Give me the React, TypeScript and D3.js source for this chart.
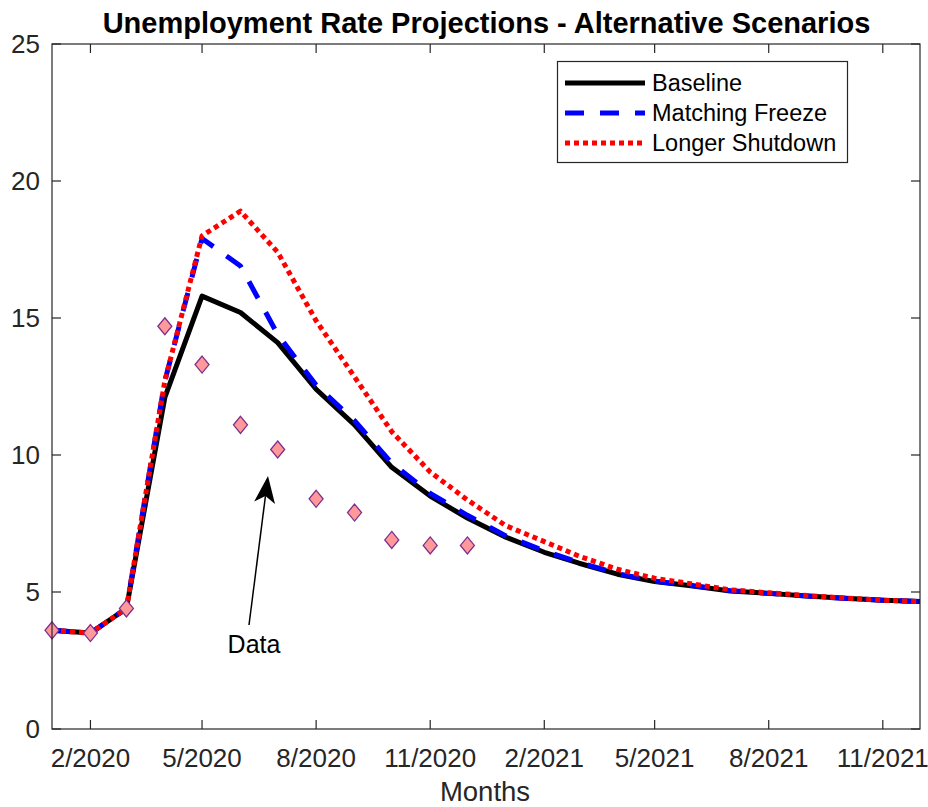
import React from "react";
import * as d3 from "d3";

// Months: January 2020 through December 2021 (first day of each month)
const monthIndex: number[] = d3.range(0, 24);
const months: Date[] = monthIndex.map((i) => new Date(Date.UTC(2020, i, 1)));

// Unemployment rate projections (%), one value per month
const baseline: number[] = [
  3.6, 3.5, 4.4, 12.1, 15.8, 15.2, 14.1, 12.4, 11.1, 9.55, 8.5, 7.7,
  7.0, 6.45, 6.05, 5.65, 5.38, 5.22, 5.04, 4.95, 4.85, 4.77, 4.7, 4.65,
];
const matchingFreeze: number[] = [
  3.6, 3.5, 4.4, 12.7, 17.9, 16.9, 14.4, 12.55, 11.25, 9.7, 8.6, 7.8,
  7.05, 6.5, 6.08, 5.67, 5.4, 5.23, 5.05, 4.95, 4.85, 4.77, 4.7, 4.65,
];
const longerShutdown: number[] = [
  3.6, 3.5, 4.4, 12.7, 18.0, 18.9, 17.4, 14.9, 12.85, 10.85, 9.38, 8.36,
  7.42, 6.84, 6.31, 5.83, 5.5, 5.29, 5.08, 4.97, 4.87, 4.78, 4.7, 4.65,
];

// Observed unemployment rate (%), Jan–Dec 2020
const observed: number[] = [3.6, 3.5, 4.4, 14.7, 13.3, 11.1, 10.2, 8.4, 7.9, 6.9, 6.7, 6.7];

// Axis ticks
const xTickDates: Date[] = [
  new Date(Date.UTC(2020, 1, 1)),
  new Date(Date.UTC(2020, 4, 1)),
  new Date(Date.UTC(2020, 7, 1)),
  new Date(Date.UTC(2020, 10, 1)),
  new Date(Date.UTC(2021, 1, 1)),
  new Date(Date.UTC(2021, 4, 1)),
  new Date(Date.UTC(2021, 7, 1)),
  new Date(Date.UTC(2021, 10, 1)),
];
const yTicks: number[] = [0, 5, 10, 15, 20, 25];

const seriesNames: string[] = ["Baseline", "Matching Freeze", "Longer Shutdown"];

const W = 928;
const H = 807;
const left = 52;
const right = 920;
const top = 44;
const bottom = 729;
const font = "Liberation Sans, Arial, Helvetica, sans-serif";
const axisColor = "#262626";

const x = d3
  .scaleUtc()
  .domain([new Date(Date.UTC(2020, 0, 1)), new Date(Date.UTC(2021, 11, 1))])
  .range([left, right]);
const y = d3.scaleLinear().domain([0, 25]).range([bottom, top]);

const line = d3
  .line<number>()
  .x((_, i) => x(months[i]))
  .y((v) => y(v));

const styles = [
  { color: "#000000", dash: "none", data: baseline },
  { color: "#0000ff", dash: "19 16", data: matchingFreeze },
  { color: "#ff0000", dash: "5 4", data: longerShutdown },
];

const fmt = (d: Date) => `${d.getUTCMonth() + 1}/${d.getUTCFullYear()}`;

export default function App() {
  const tickLen = 9;
  const arrowTip: [number, number] = [268, 476];
  const arrowTail: [number, number] = [249, 625];
  const ang = Math.atan2(arrowTip[1] - arrowTail[1], arrowTip[0] - arrowTail[0]);
  const headLen = 27;
  const headHalf = 10.5;
  const ux = Math.cos(ang);
  const uy = Math.sin(ang);
  const px = -uy;
  const py = ux;
  const bx = arrowTip[0] - ux * headLen;
  const by = arrowTip[1] - uy * headLen;
  const nx = arrowTip[0] - ux * headLen * 0.75;
  const ny = arrowTip[1] - uy * headLen * 0.75;
  const head = [
    [arrowTip[0], arrowTip[1]],
    [bx + px * headHalf, by + py * headHalf],
    [nx, ny],
    [bx - px * headHalf, by - py * headHalf],
  ]
    .map((p) => p.join(","))
    .join(" ");

  return (
    <svg
      width={W}
      height={H}
      style={{ position: "absolute", left: 0, top: 0, background: "#fff" }}
      fontFamily={font}
    >
      <rect x={0} y={0} width={W} height={H} fill="#fff" />

      {/* scenario lines */}
      {styles.map((s, k) => (
        <path
          key={k}
          d={line(s.data) || ""}
          fill="none"
          stroke={s.color}
          strokeWidth={5}
          strokeDasharray={s.dash}
          strokeLinejoin="round"
        />
      ))}

      {/* observed data */}
      {observed.map((v, i) => {
        const cx = x(months[i]);
        const cy = y(v);
        return (
          <path
            key={i}
            d={`M${cx},${cy - 8.5}L${cx + 7},${cy}L${cx},${cy + 8.5}L${cx - 7},${cy}Z`}
            fill="#ff9999"
            stroke="#7e2f8e"
            strokeWidth={1.3}
          />
        );
      })}

      {/* annotation */}
      <line
        x1={arrowTail[0]}
        y1={arrowTail[1]}
        x2={nx}
        y2={ny}
        stroke="#000"
        strokeWidth={1.5}
      />
      <polygon points={head} fill="#000" />
      <text x={254} y={653} textAnchor="middle" fontSize={25} fill="#000">
        Data
      </text>

      {/* axes box */}
      <rect
        x={left}
        y={top}
        width={right - left}
        height={bottom - top}
        fill="none"
        stroke={axisColor}
        strokeWidth={1.2}
      />
      {xTickDates.map((d, i) => {
        const tx = x(d);
        return (
          <g key={i}>
            <line x1={tx} x2={tx} y1={bottom} y2={bottom - tickLen} stroke={axisColor} strokeWidth={1.2} />
            <line x1={tx} x2={tx} y1={top} y2={top + tickLen} stroke={axisColor} strokeWidth={1.2} />
            <text x={tx} y={767} textAnchor="middle" fontSize={26} fill={axisColor}>
              {fmt(d)}
            </text>
          </g>
        );
      })}
      {yTicks.map((v, i) => {
        const ty = y(v);
        return (
          <g key={i}>
            <line x1={left} x2={left + tickLen} y1={ty} y2={ty} stroke={axisColor} strokeWidth={1.2} />
            <line x1={right} x2={right - tickLen} y1={ty} y2={ty} stroke={axisColor} strokeWidth={1.2} />
            <text x={40} y={ty} dy="0.36em" textAnchor="end" fontSize={26} fill={axisColor}>
              {v}
            </text>
          </g>
        );
      })}

      {/* titles */}
      <text x={(left + right) / 2 + 0.5} y={33} textAnchor="middle" fontSize={29} fontWeight="bold" fill="#000">
        Unemployment Rate Projections - Alternative Scenarios
      </text>
      <text x={(left + right) / 2 - 1} y={801} textAnchor="middle" fontSize={27.5} fill={axisColor}>
        Months
      </text>

      {/* legend */}
      <rect x={557.5} y={61.5} width={290} height={101} fill="#fff" stroke={axisColor} strokeWidth={1.2} />
      {styles.map((s, k) => {
        const ly = 83 + k * 30;
        return (
          <g key={k}>
            <line x1={565} x2={645} y1={ly} y2={ly} stroke={s.color} strokeWidth={5} strokeDasharray={s.dash} />
            <text x={652} y={ly} dy="0.35em" fontSize={23.5} fill="#000">
              {seriesNames[k]}
            </text>
          </g>
        );
      })}
    </svg>
  );
}
